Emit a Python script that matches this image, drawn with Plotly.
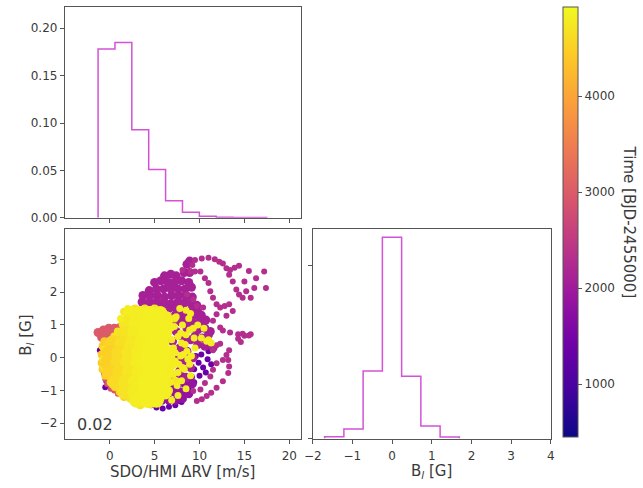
import plotly.graph_objects as go

# ---------------- data ----------------
# top histogram: SDO/HMI dRV (density, step outline)
RV_BIN_EDGES = [-1.30, 0.58, 2.46, 4.34, 6.22, 8.10, 9.98, 11.86, 13.74, 15.62, 17.50]
RV_DENSITY = [0.178, 0.185, 0.093, 0.051, 0.018, 0.006, 0.0017, 0.0006, 0.0004, 0.0004]

# right histogram: B_l (density, step outline)
BL_BIN_EDGES = [-1.70, -1.215, -0.73, -0.245, 0.24, 0.725, 1.21, 1.695]
BL_DENSITY = [0.011, 0.055, 0.39, 1.16, 0.36, 0.072, 0.0095]

# scatter groups (dRV [m/s], B_l [G]) and their time [BJD-2455000]
EARLY_X = [-1.1, -0.6, -0.4, -0.1, -0.5, 4.6, 5.2, 5.9, 6.6, 7.3, 8.0, 9.4, 9.9, 10.4, 10.9,
           10.2, 10.7, 11.3, 10.0, 9.6, 11.0, 8.8, 9.4]
EARLY_Y = [0.23, -0.5, -0.7, -0.85, -0.9, -1.45, -1.52, -1.55, -1.5, -1.45, -1.35, -0.35, -0.15,
           -0.3, -0.05, 0.1, -0.45, -0.2, -0.55, 0.05, 0.2, -0.95, -0.75]
EARLY_T = 1350

LOWER_X = [8.2, 9.0, 6.8, 7.6, 8.4, 9.2, 5.6, 6.4, 7.2, 8.0, 8.8, 5.8, 6.6, 7.4, 8.1]
LOWER_Y = [-0.6, -0.6, -0.85, -0.8, -0.8, -0.8, -1.05, -1.05, -1.05, -1.05, -1.1, -1.3, -1.3, -1.3, -1.25]
LOWER_T = 1850

DENSE_X = [8.6, 8.9,
           6.1, 6.8, 7.4, 8.3, 8.9,
           5.0, 5.7, 6.5, 7.2, 8.0, 8.8,
           4.4, 5.2, 6.0, 6.8, 7.6, 8.4, 9.1,
           3.7, 4.5, 5.3, 6.1, 6.9, 7.7, 8.5, 9.2,
           3.6, 4.4, 5.2, 6.0, 6.8, 7.6, 8.4, 9.1, 9.7,
           5.8, 6.6, 7.4, 8.2, 9.0, 9.8,
           7.3, 8.1, 8.9, 9.6, 10.2,
           8.6, 9.3, 10.0, 10.7,
           9.1, 9.8, 10.6, 11.2,
           9.5, 10.3, 11.0,
           9.8, 10.6, 11.5,
           7.0, 7.8, 8.6, 7.4, 8.2, 9.0, 7.0, 7.8, 8.6, 9.3, 7.4, 8.2, 9.0, 7.8, 8.5, 7.2]
DENSE_Y = [2.85, 2.95,
           2.5, 2.55, 2.5, 2.6, 2.6,
           2.3, 2.35, 2.3, 2.3, 2.35, 2.3,
           2.05, 2.1, 2.1, 2.1, 2.1, 2.1, 2.15,
           1.9, 1.9, 1.9, 1.85, 1.9, 1.9, 1.9, 1.85,
           1.7, 1.7, 1.7, 1.7, 1.65, 1.7, 1.7, 1.65, 1.6,
           1.5, 1.5, 1.5, 1.5, 1.45, 1.4,
           1.3, 1.3, 1.25, 1.3, 1.3,
           1.1, 1.05, 1.1, 1.15,
           0.9, 0.85, 0.9, 0.8,
           0.65, 0.6, 0.7,
           0.4, 0.35, 0.3,
           1.1, 1.1, 0.9, 0.8, 0.6, 0.55, 0.5, 0.3, 0.2, 0.0, 0.0, -0.1, -0.3, -0.4, -0.6, -0.6]
DENSE_T = 2100

ARC_X = [9.5, 10.25, 11.0, 11.7, 12.2, 12.6, 13.0, 13.4, 13.9, 14.4, 13.3, 13.7, 14.1, 14.4, 14.8,
         15.5, 16.3, 17.2, 17.4, 16.1, 15.2, 15.7, 15.0,
         9.2, 9.0, 9.5, 10.1, 10.6, 11.0, 11.2, 11.5, 11.9, 12.3, 12.8, 13.3, 13.7, 13.0, 11.9,
         11.5, 12.3, 12.6, 13.4, 14.3, 15.0, 15.7, 8.6, 9.3, 9.7, 10.4, 8.1,
         14.8, 15.5, 14.3, 14.6, 13.3, 13.2, 13.3, 13.2, 12.6, 11.9, 11.3, 10.8, 10.25, 9.7,
         12.3, 11.9, 11.5, 11.9, 11.5, 11.2, 10.6, 10.1, 9.3, 13.0, 12.6]
ARC_Y = [2.98, 3.03, 3.05, 3.01, 2.93, 2.88, 2.73, 2.68, 2.75, 2.81, 2.53, 2.33, 2.08, 1.93, 1.83,
         2.65, 2.43, 2.63, 2.13, 2.13, 2.03, 1.83, 2.33,
         2.83, 2.63, 2.63, 2.63, 2.43, 2.28, 2.03, 1.83, 1.63, 1.53, 1.58, 1.63, 1.43, 1.28, 1.33,
         1.13, 0.92, 0.83, 0.77, 0.72, 0.67, 0.72, 1.93, 1.78, 1.58, 1.53, 2.68,
         0.73, 0.68, 0.58, 0.48, 0.23, -0.07, -0.27, -0.47, -0.72, -0.92, -1.07, -1.17, -1.27, -1.32,
         0.43, 0.38, 0.23, -0.17, -0.37, -0.57, -0.77, -0.97, -1.02, 0.08, -0.07]
ARC_T = 2300

PINKLOW_X = [-0.5, -0.3, 0.1, 0.5, 0.9, -0.7]
PINKLOW_Y = [-0.65, -0.8, -0.95, -1.0, -1.1, -0.4]
PINKLOW_T = 2900

PINK_X = [-1.3, -0.7, -0.1, 0.5, 1.1, -0.9, -0.3, 0.3, 0.9, 1.4, -0.5, 0.2, 0.9]
PINK_Y = [0.77, 0.85, 0.9, 0.9, 0.92, 0.62, 0.68, 0.7, 0.72, 0.78, 0.5, 0.5, 0.5]
PINK_T = 3000

ORANGE_X = [-0.8, -0.9, -0.9, -0.8, -0.6, -0.5, 0.1, 0.6, 1.1, 0.0, 1.6]
ORANGE_Y = [0.35, 0.1, -0.15, -0.35, 0.5, -0.55, -0.75, -0.9, -1.05, 0.45, -1.2]
ORANGE_T = 4450

BLOB_X = [2.3, 3.4, 4.5, 5.6,
          1.8, 2.9, 4.0, 5.1, 6.2,
          1.7, 2.8, 3.9, 5.0, 6.1,
          0.3, 1.4, 2.5, 3.6, 4.7, 5.8,
          -0.1, 1.0, 2.1, 3.2, 4.3, 5.4, 6.4,
          -0.2, 0.9, 2.0, 3.1, 4.2, 5.3, 6.3,
          0.0, 1.1, 2.2, 3.3, 4.4, 5.5, 6.4,
          0.6, 1.7, 2.8, 3.9, 5.0, 6.1,
          1.7, 2.8, 3.9, 5.0, 6.1,
          3.0, 4.1, 5.2]
BLOB_Y = [1.35, 1.35, 1.35, 1.35,
          1.05, 1.05, 1.05, 1.05, 1.05,
          0.75, 0.75, 0.75, 0.75, 0.75,
          0.45, 0.45, 0.45, 0.45, 0.45, 0.45,
          0.15, 0.15, 0.15, 0.15, 0.15, 0.15, 0.15,
          -0.15, -0.15, -0.15, -0.15, -0.15, -0.15, -0.15,
          -0.45, -0.45, -0.45, -0.45, -0.45, -0.45, -0.45,
          -0.75, -0.75, -0.75, -0.75, -0.75, -0.75,
          -1.05, -1.05, -1.05, -1.05, -1.05,
          -1.3, -1.3, -1.3]
BLOB_T = [4800, 4800, 4820, 4820,
          4750, 4800, 4820, 4820, 4820,
          4700, 4780, 4820, 4820, 4820,
          4550, 4650, 4750, 4800, 4820, 4820,
          4500, 4600, 4720, 4800, 4820, 4820, 4820,
          4500, 4600, 4720, 4800, 4820, 4820, 4820,
          4520, 4620, 4720, 4800, 4820, 4820, 4820,
          4600, 4700, 4780, 4820, 4820, 4820,
          4700, 4780, 4820, 4820, 4820,
          4800, 4820, 4820]

EDGE_X = [1.6, 2.8, 3.9, 5.0, 6.3, 7.2, 0.9, 0.5, -0.6, -0.7, -0.6,
          1.2, 2.3, 3.4, 4.5, 5.6, 6.6, 7.3]
EDGE_Y = [1.4, 1.5, 1.5, 1.5, 1.3, 1.2, 0.8, 0.65, 0.25, -0.05, -0.3,
          -0.95, -1.25, -1.45, -1.42, -1.25, -1.0, -0.7]
EDGE_T = 4700

SPARSE_X = [8.8, 9.3, 10.2, 10.8, 11.3, 9.5, 8.9, 9.0, 8.5, 7.8, 8.5, 9.8, 10.5, 9.1,
            7.6, 6.9, 2.0, 5.8, 6.5, 1.2, 9.0, 11.0,
            6.6, 7.4, 8.1, 6.8, 7.6, 8.4, 7.1, 7.9, 8.7, 7.0, 7.6, 8.3, 6.8, 7.5, 8.0, 9.4, 8.9,
            8.1, 8.6, 8.5, 7.2, 7.9, 6.9, 7.3, 8.0, 6.9, 7.3, 7.7, 8.2, 6.7, 7.1]
SPARSE_Y = [1.2, 0.9, 0.6, 0.5, 0.45, 0.3, -0.2, -0.55, -0.95, 1.5, 1.45, 1.0, 0.9, 0.05,
            -1.15, -1.3, 1.5, 1.45, 1.3, 1.2, 1.35, 0.55,
            1.2, 1.25, 1.0, 0.9, 0.65, 0.4, 0.3, 0.05, -0.05, -0.25, -0.45, -0.35, -0.75, -0.85, -0.7, 0.6, 0.85,
            -0.3, 0.2, 0.7, 0.95, 0.75, 0.55, 0.15, 0.45, 0.0, -0.1, -0.2, 0.1, -0.45, -0.5]
SPARSE_T = 4800

ANNOTATION_TEXT = "0.02"
CBAR_TITLE = "Time [BJD-2455000]"
CBAR_TICKS = [1000, 2000, 3000, 4000]
TOP_Y_TICKS = [0.0, 0.05, 0.10, 0.15, 0.20]
X_TICKS = [0, 5, 10, 15, 20]
BL_TICKS = [-2, -1, 0, 1, 2, 3, 4]

# ---------------- figure ----------------
W, H = 643, 488
FONT = "DejaVu Sans"
HIST_COLOR = "#d452d6"
AX_COLOR = "#555555"
TXT = "#3a3a3a"

fig = go.Figure()


def step_xy(edges, vals):
    xs = [edges[0]] + list(edges[:-1]) + [edges[-1]]
    ys = [0] + list(vals) + [0]
    return xs, ys


hx, hy = step_xy(RV_BIN_EDGES, RV_DENSITY)
fig.add_trace(go.Scatter(x=hx, y=hy, mode="lines", line=dict(color=HIST_COLOR, width=1.5, shape="hv"),
                         xaxis="x", yaxis="y", showlegend=False, hoverinfo="skip"))

bx, by = step_xy(BL_BIN_EDGES, BL_DENSITY)
fig.add_trace(go.Scatter(x=bx, y=by, mode="lines", line=dict(color=HIST_COLOR, width=1.5, shape="hv"),
                         xaxis="x3", yaxis="y3", showlegend=False, hoverinfo="skip"))

groups = [
    (EARLY_X, EARLY_Y, [EARLY_T] * len(EARLY_X), 6),
    (LOWER_X, LOWER_Y, [LOWER_T] * len(LOWER_X), 9),
    (DENSE_X, DENSE_Y, [DENSE_T] * len(DENSE_X), 9),
    (ARC_X, ARC_Y, [ARC_T] * len(ARC_X), 6),
    (PINKLOW_X, PINKLOW_Y, [PINKLOW_T] * len(PINKLOW_X), 6),
    (PINK_X, PINK_Y, [PINK_T] * len(PINK_X), 9),
    (ORANGE_X, ORANGE_Y, [ORANGE_T] * len(ORANGE_X), 8),
    (EDGE_X, EDGE_Y, [EDGE_T] * len(EDGE_X), 8),
    (BLOB_X, BLOB_Y, BLOB_T, 15),
    (SPARSE_X, SPARSE_Y, [SPARSE_T] * len(SPARSE_X), 7),
]
for gx, gy, gt, sz in groups:
    fig.add_trace(go.Scatter(
        x=gx, y=gy, mode="markers", xaxis="x2", yaxis="y2", showlegend=False,
        marker=dict(size=sz, color=gt, coloraxis="coloraxis", line=dict(width=0)),
    ))

axis_common = dict(showline=True, mirror=True, linecolor=AX_COLOR, linewidth=1, ticks="outside",
                   ticklen=4, tickcolor=AX_COLOR, showgrid=False, zeroline=False,
                   tickfont=dict(family=FONT, size=12, color=TXT))

dx_left = [57 / W, 298 / W]
dx_right = [310 / W, 553 / W]
dy_top = [1 - 221 / H, 1 - 7 / H]
dy_bot = [1 - 445 / H, 1 - 232 / H]

fig.update_layout(
    width=W, height=H, margin=dict(l=0, r=0, t=0, b=0),
    paper_bgcolor="white", plot_bgcolor="white",
    font=dict(family=FONT, color=TXT),
    xaxis=dict(domain=dx_left, anchor="y", range=[-5, 21.3], tickvals=X_TICKS, showticklabels=False, **axis_common),
    yaxis=dict(domain=dy_top, anchor="x", range=[0, 0.2225], tickvals=TOP_Y_TICKS, tickformat=".2f", **axis_common),
    xaxis2=dict(domain=dx_left, anchor="y2", range=[-5, 21.3], tickvals=X_TICKS, ticklabelstandoff=2, **axis_common),
    yaxis2=dict(domain=dy_bot, anchor="x2", range=[-2.47, 3.94], dtick=1, **axis_common),
    xaxis3=dict(domain=dx_right, anchor="y3", range=[-2, 4], tickvals=BL_TICKS, ticklabelstandoff=2, **axis_common),
    yaxis3=dict(domain=dy_bot, anchor="x3", range=[0, 1.21], tickvals=[0, 1], showticklabels=False, **axis_common),
    coloraxis=dict(
        colorscale="Plasma", cmin=450, cmax=4930,
        colorbar=dict(
            x=565 / W, xanchor="left", y=1 - 7 / H, yanchor="top", len=436 / H, lenmode="fraction",
            thickness=15, thicknessmode="pixels", xpad=0, ypad=0,
            outlinewidth=1, outlinecolor=AX_COLOR, ticks="outside", ticklen=4, tickcolor=AX_COLOR,
            tickvals=CBAR_TICKS, tickfont=dict(family=FONT, size=12, color=TXT),
        ),
    ),
    annotations=[
        dict(text=ANNOTATION_TEXT, x=-3.9, y=-2.03, xref="x2", yref="y2", xanchor="left", yanchor="middle",
             showarrow=False, font=dict(family=FONT, size=16, color=TXT)),
        dict(text="SDO/HMI ΔRV [m/s]", x=177.5 / W, y=1 - 479 / H, xref="paper", yref="paper",
             xanchor="center", yanchor="middle", showarrow=False, font=dict(family=FONT, size=15, color=TXT)),
        dict(text="B<sub><i>l</i></sub> [G]", x=17 / W, y=1 - 340 / H, xref="paper", yref="paper",
             xanchor="center", yanchor="middle", textangle=-90, showarrow=False,
             font=dict(family=FONT, size=15, color=TXT)),
        dict(text="B<sub><i>l</i></sub> [G]", x=431 / W, y=1 - 478 / H, xref="paper", yref="paper",
             xanchor="center", yanchor="middle", showarrow=False, font=dict(family=FONT, size=15, color=TXT)),
        dict(text=CBAR_TITLE, x=633 / W, y=1 - 225 / H, xref="paper", yref="paper",
             xanchor="center", yanchor="middle", textangle=90, showarrow=False,
             font=dict(family=FONT, size=15, color=TXT)),
    ],
)

fig.write_html("out.html")
